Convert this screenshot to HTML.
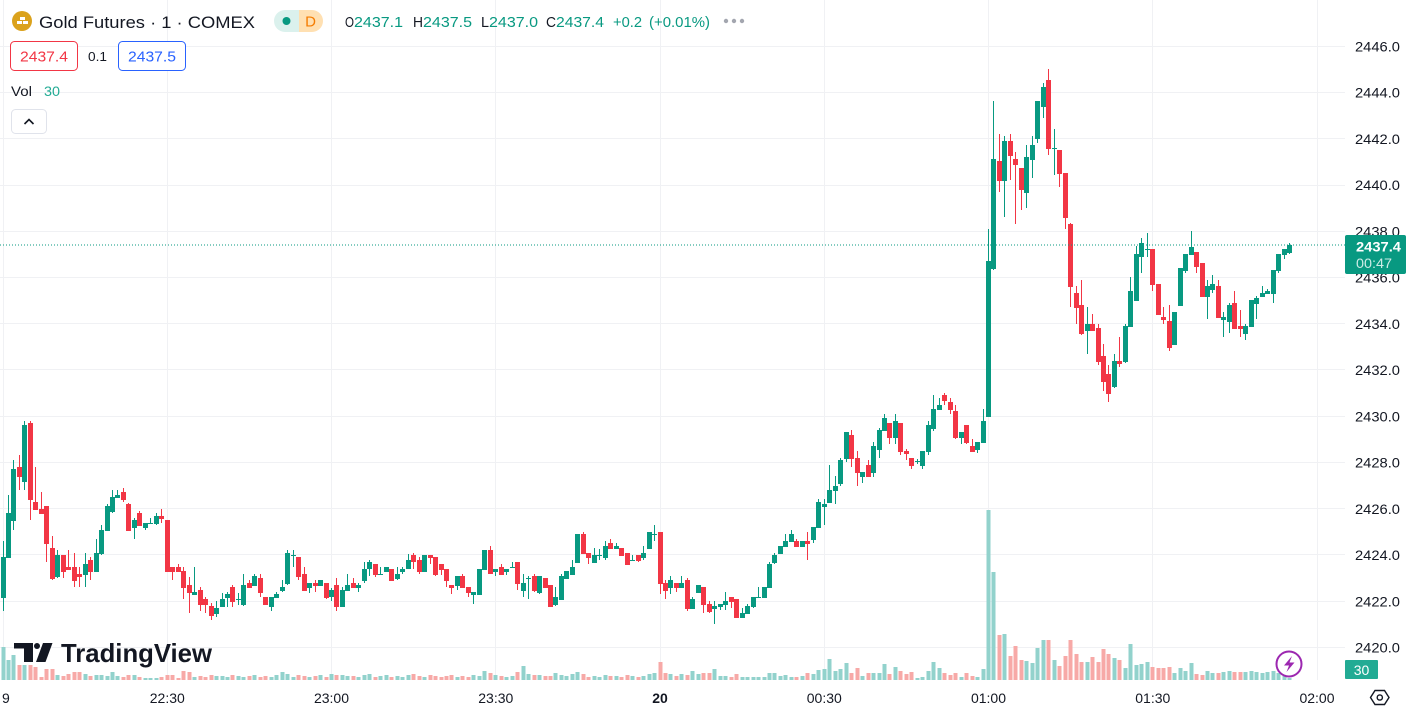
<!DOCTYPE html>
<html><head><meta charset="utf-8">
<style>
html,body{margin:0;padding:0;background:#fff;overflow:hidden;width:1410px;height:714px}
svg{display:block;font-family:"Liberation Sans",sans-serif}
</style></head>
<body>
<svg id="s" width="1410" height="714" viewBox="0 0 1410 714" xmlns="http://www.w3.org/2000/svg">
<rect x="0" y="0" width="1410" height="714" fill="#fff"/>
<defs><clipPath id="cp"><rect x="0" y="0" width="1345" height="680"/></clipPath></defs>
<g id="grid"></g>
<g clip-path="url(#cp)"><g id="vol"></g><g id="cdl"></g>
<line x1="0" y1="245" x2="1345" y2="245" stroke="#089981" stroke-width="1" stroke-dasharray="1 2"/>
</g>
<g id="axis" font-size="14" fill="#131722"></g>

<!-- current price label -->
<rect x="1345" y="235" width="61" height="39" rx="2" fill="#089981"/>
<text x="1356" y="251.5" font-size="14" font-weight="bold" fill="#fff" textLength="45" lengthAdjust="spacingAndGlyphs">2437.4</text>
<text x="1356" y="268" font-size="14" fill="#fff" fill-opacity="0.8" textLength="36" lengthAdjust="spacingAndGlyphs">00:47</text>
<!-- volume label -->
<rect x="1345" y="660" width="33" height="19" rx="1" fill="#22ab94"/>
<text x="1361.5" y="675" font-size="14" fill="#fff" text-anchor="middle">30</text>

<!-- settings hex -->
<polygon points="1370.5,697.5 1375,690.5 1384.5,690.5 1389,697.5 1384.5,704.5 1375,704.5" fill="none" stroke="#131722" stroke-width="1.4"/>
<circle cx="1379.8" cy="697.5" r="2.6" fill="none" stroke="#131722" stroke-width="1.4"/>

<!-- lightning icon -->
<circle cx="1289" cy="664" r="12.5" fill="#fff" stroke="#9c27b0" stroke-width="2"/>
<polygon points="1292,656 1284,665.5 1289,665.5 1286.5,672 1294.5,662.5 1289.5,662.5" fill="#9c27b0"/>

<!-- TradingView logo -->
<path d="M14 643 H33 V662 H24 V648.5 H14 Z" fill="#131722"/>
<circle cx="37" cy="646" r="3" fill="#131722"/>
<polygon points="43,643 52.5,643 45.5,662 36,662" fill="#131722"/>
<text x="61" y="662" font-size="26" font-weight="bold" fill="#131722" textLength="151" lengthAdjust="spacingAndGlyphs">TradingView</text>

<!-- legend -->
<circle cx="22" cy="21" r="10" fill="#dba21c"/>
<rect x="17" y="21" width="5" height="3" fill="#fff"/>
<rect x="23" y="21" width="5" height="3" fill="#fff"/>
<rect x="20" y="17" width="5" height="3" fill="#fff"/>
<text x="39" y="28" font-size="17" fill="#131722" textLength="216" lengthAdjust="spacingAndGlyphs">Gold Futures · 1 · COMEX</text>
<path d="M285 10 H299 V32 H285 A11 11 0 0 1 285 10 Z" fill="#dbf1ed"/>
<path d="M299 10 H312 A11 11 0 0 1 312 32 H299 Z" fill="#ffe0b2"/>
<circle cx="286.5" cy="21" r="4" fill="#089981"/>
<text x="310.5" y="26.5" font-size="15" fill="#f57c00" text-anchor="middle">D</text>
<g font-size="14.5">
<text x="345" y="27" fill="#131722" textLength="9" lengthAdjust="spacingAndGlyphs">O</text>
<text x="354" y="27" fill="#089981" textLength="49" lengthAdjust="spacingAndGlyphs">2437.1</text>
<text x="413" y="27" fill="#131722" textLength="10" lengthAdjust="spacingAndGlyphs">H</text>
<text x="423" y="27" fill="#089981" textLength="49" lengthAdjust="spacingAndGlyphs">2437.5</text>
<text x="481" y="27" fill="#131722" textLength="8" lengthAdjust="spacingAndGlyphs">L</text>
<text x="489" y="27" fill="#089981" textLength="49" lengthAdjust="spacingAndGlyphs">2437.0</text>
<text x="546" y="27" fill="#131722" textLength="10" lengthAdjust="spacingAndGlyphs">C</text>
<text x="556" y="27" fill="#089981" textLength="48" lengthAdjust="spacingAndGlyphs">2437.4</text>
<text x="613" y="27" fill="#089981" textLength="29" lengthAdjust="spacingAndGlyphs">+0.2</text>
<text x="649" y="27" fill="#089981" textLength="61" lengthAdjust="spacingAndGlyphs">(+0.01%)</text>
</g>
<circle cx="726" cy="21" r="2.2" fill="#a3a6af"/>
<circle cx="734" cy="21" r="2.2" fill="#a3a6af"/>
<circle cx="742" cy="21" r="2.2" fill="#a3a6af"/>

<rect x="10.5" y="41.5" width="67" height="29" rx="4" fill="#fff" stroke="#f23645"/>
<text x="44" y="61.5" font-size="15" fill="#f23645" text-anchor="middle" textLength="48" lengthAdjust="spacingAndGlyphs">2437.4</text>
<text x="88" y="61" font-size="13" fill="#131722" textLength="19" lengthAdjust="spacingAndGlyphs">0.1</text>
<rect x="118.5" y="41.5" width="67" height="29" rx="4" fill="#fff" stroke="#2962ff"/>
<text x="152" y="61.5" font-size="15" fill="#2962ff" text-anchor="middle" textLength="48" lengthAdjust="spacingAndGlyphs">2437.5</text>

<text x="11" y="96" font-size="14" fill="#131722" textLength="21" lengthAdjust="spacingAndGlyphs">Vol</text>
<text x="44" y="96" font-size="14" fill="#22ab94" textLength="16" lengthAdjust="spacingAndGlyphs">30</text>

<rect x="11.5" y="109.5" width="35" height="24" rx="4" fill="#fff" stroke="#e0e3eb"/>
<polyline points="24.5,124 29,119.5 33.5,124" fill="none" stroke="#131722" stroke-width="1.6"/>
</svg>
<script>
(function(){
var NS="http://www.w3.org/2000/svg";
var D=[
[410,"440 563 393 602 g|309 443 255 443 g|177 332 150 360 g|171 200 135 240 r|45 215 33 240 g|39 270 33 330 r|276 299 171 299 r|297 311 246 311 r|288 402 288 456 r|414 506 378 510 r|435 500 420 503 g|435 486 435 503 r|470 480 420 480 r|470 512 430 530 r|491 500 470 530 r|462 494 430 530 g|450 485 440 510 r|429 486 387 486 g|360 432 345 435 g|288 362 282 362 g|261 305 240 308 g|255 263 240 263 g|246 270 234 275 r|282 362 279 362 r|330 353 324 386 g|309 347 303 347 r|339 353 339 360 g|339 342 324 342 g|318 341 309 345 g|318 326 297 338 r|330 485 330 485 r|470 485 470 510 r|470 485 462 485 r|483 533 470 566 r|524 548 500 608 r|545 554 470 554 g|540 584 530 602 r|566 584 560 608 r|588 617 580 629 r|594 611 572 620 g|567 590 550 590 g|551 563 545 590 g|530 575 525 590 r|567 569 550 585 g|524 584 492 587 g|518 533 510 533 r|497 527 491 527 g|503 548 491 560 r|560 584 560 584 r|561 590 561 602 g|551 563 545 563 g|530 542 510 545 g|429 521 420 524 g|435 437 420 470 g|440 500 440 510 r|491 542 470 542 r|518 533 518 550 g|518 527 510 545 r|509 527 509 527 g|518 563 518 566 r"],
[510,"240 262 235 272 g|225 290 205 302 r|240 290 232 290 g|225 242 192 242 g|219 234 205 234 r|225 234 218 245 g|177 212 156 218 g|156 178 150 198 g|162 195 162 200 r|192 194 171 195 g|171 186 171 186 g|177 212 177 212 r|192 207 171 210 g|177 186 171 192 g|150 178 132 178 g|135 157 129 177 r|150 186 141 192 r|135 186 135 186 g|135 143 135 162 r|141 195 141 198 r|162 180 162 195 r|177 212 177 230 r|225 234 225 251 r|198 228 198 240 g|198 233 192 233 r|231 248 231 262 r|246 254 246 281 g|177 254 177 254 g|120 180 120 180 g|120 192 108 192 r|177 186 177 198 g|171 195 162 195 r|177 186 177 195 g|171 173 156 174 g|156 222 156 240 r|219 242 192 260 g|204 206 198 266 g|198 242 192 245 r|198 248 198 251 g|204 233 204 233 r|225 290 225 290 r|260 284 231 287 g|198 269 192 269 g|183 206 183 206 g|171 194 150 194 g|72 158 72 158 g|72 131 66 131 r|129 143 129 162 r|135 158 114 158 g|135 137 117 150 g|108 143 93 150 g|99 116 87 116 r|108 116 99 116 g|114 137 114 137 r|129 165 129 165 r|150 152 135 153 g|135 153 135 156 r|129 143 108 150 g|66 116 66 116 g|72 74 45 93 g"],
[380,"456 611 456 641 r|609 632 600 656 r|600 623 588 641 g|609 623 609 635 r|609 623 588 623 g|600 686 594 692 r|657 686 651 686 g|615 638 615 638 g|621 674 621 698 r|672 695 662 698 r|678 686 662 731 g|672 680 672 690 g|662 674 636 690 g|651 665 651 683 r|657 713 657 713 r|699 713 684 713 g|678 701 672 701 g|651 681 651 683 g|651 653 621 653 g|621 654 621 654 g|551 623 546 623 g|524 548 518 551 g|497 521 497 521 g|483 500 462 500 g|462 486 450 486 g|483 500 477 500 r|483 500 483 500 g|483 491 456 540 r|441 480 441 489 g|365 443 357 443 g|372 380 357 435 g|330 368 255 368 g|318 332 288 372 g|240 311 234 318 g|156 236 156 246 g|165 236 150 260 r|234 278 213 318 r|276 290 276 308 g|255 290 240 290 r|198 278 186 290 g|150 210 144 234 g|114 153 102 153 g|129 173 129 192 r|123 173 102 192 g|129 215 129 225 r|213 222 207 240 r|234 257 234 266 r|243 245 237 252 g|213 257 213 266 g|135 215 123 225 g|87 147 45 153 g|75 89 54 89 g|45 62 39 75 r|66 89 54 101 r|93 174 75 177 r|156 173 156 192 g|135 189 135 192 r|198 215 177 215 r|186 210 186 219 g|123 188 87 188 g"],
[60,"603 1070 507 1070 g|297 627 123 630 g|303 362 222 395 r|243 362 228 470 g|243 288 222 360 r|297 314 276 491 r|324 389 324 449 r|291 398 255 443 g|255 299 228 353 g|123 236 123 248 g|81 140 69 173 g|60 266 27 284 r|264 266 207 344 g|270 341 270 380 r|339 473 339 506 r|491 680 488 740 r|699 743 678 791 r|735 821 660 825 r|792 812 740 881 g|792 812 762 812 r|803 905 792 914 r|887 965 852 992 r|941 1001 914 1025 r|903 980 881 983 g|903 911 830 920 r|797 905 792 908 g|692 800 651 800 g|582 722 557 722 g|548 590 533 638 g|567 569 518 590 g|567 674 567 692 r|671 764 671 764 r|770 779 740 791 r|782 863 735 872 r|755 854 755 854 g|624 737 624 737 g|582 632 582 638 g|561 585 513 585 g|576 620 576 638 r|609 710 609 710 r|678 710 660 776 g|672 689 645 698 g|678 773 660 773 r|770 779 755 830 g|735 785 728 818 g|728 806 692 806 r|797 806 749 830 r|797 821 791 839 g|719 800 719 800 g|713 731 708 776 g|698 710 678 710 g|692 701 686 701 g|630 701 630 728 g|582 632 582 638 g|567 584 567 597 g|555 578 548 581 g"]
];
var bars=[];
D.forEach(function(r){var off=r[0];r[1].split('|').forEach(function(t){var a=t.trim().split(/\s+/);bars.push({bt:off+a[0]/3,bb:off+a[1]/3,wt:off+a[2]/3,wb:off+a[3]/3,c:a[4]});});});

// volumes
var V=[];
var head=[33,20,25,15,15,15,13,3,11,11,5,4,6,8,8,6,4,5,5,4,8,4,3,5,5,3,2,2,2,3,5,5,2,9,8];
var pat=[4,3,5,4,4,3,5,4,3,4,5,3];
for(var i=0;i<121;i++){V[i]=i<head.length?head[i]:pat[i%pat.length];}
var ov={51:8,52:6,60:6,61:5,66:5,67:6,74:5,75:6,88:9,89:7,94:8,95:14,96:6,97:5,101:7,104:6,105:8,106:6,118:6,119:7,120:18};
for(var k in ov)V[+k]=ov[k];
var mid=[7,6,4,6,5,9,6,7,7,11,4,4,3,6,3,3,3,3,3,7,7,4,5,3,3,4,7,6,10,11,21,9,11,17,7,12,4,7,7,7,16,6,13,9,6,8,2,3,9,18,12,7,5,7,3,7,4,3,11];
for(i=0;i<mid.length;i++)V[121+i]=mid[i];
var tail=[170,108,45,46,24,34,20,19,17,32,40,40,20,14,24,40,26,18,18,23,18,31,26,22,20,12,36,15,16,18,13,12,12,13,7,12,9,17,6,5,9,7,7,8,9,8,8,8,9,8,7,8,9,7,4,2];
for(i=0;i<tail.length;i++)V[180+i]=tail[i];

function el(tag,attrs,parent){var e=document.createElementNS(NS,tag);for(var a in attrs)e.setAttribute(a,attrs[a]);parent.appendChild(e);return e;}
var grid=document.getElementById('grid'),vol=document.getElementById('vol'),cdl=document.getElementById('cdl'),axis=document.getElementById('axis');
var GC="#f0f1f4";
// horizontal grid + price labels
for(var k2=0;k2<14;k2++){
  var y=46.3+k2*46.24;var yy=Math.floor(y)+0.5;
  el('line',{x1:0,y1:yy,x2:1345,y2:yy,stroke:GC,'stroke-width':1},grid);
  var p=(2446-2*k2).toFixed(1);
  var t=el('text',{x:1355,y:(y+5.2).toFixed(1),textLength:45,lengthAdjust:'spacingAndGlyphs'},axis);t.textContent=p;
}
// vertical grid + time labels
var labels=["9","22:30","23:00","23:30","20","00:30","01:00","01:30","02:00"];
for(var j=0;j<9;j++){
  var x=3+j*164.25;var xx=Math.floor(x)+0.5;
  el('line',{x1:xx,y1:0,x2:xx,y2:680,stroke:GC,'stroke-width':1},grid);
  var at={x:x.toFixed(1),y:703,'text-anchor':'middle'};
  if(j==0){at.x=2;at['text-anchor']='start';}
  if(j==4){at['font-weight']='bold';}
  var tt=el('text',at,axis);tt.textContent=labels[j];
}
// candles & volume
var G="#089981",Rc="#f23645",VG="#92d2cc",VR="#f7a9a7";
bars.forEach(function(b,i){
  var cx=3+i*5.475;var left=Math.round(cx-2.5);
  var col=b.c=='g'?G:Rc;
  var h=V[i]||3;
  el('rect',{x:left+0.5,y:(680-h).toFixed(1),width:4,height:h,fill:b.c=='g'?VG:VR},vol);
  var wt=Math.round(b.wt),wb=Math.round(b.wb);
  el('rect',{x:left+2,y:wt,width:1,height:Math.max(1,wb-wt),fill:col},cdl);
  var bt=Math.round(b.bt),bb=Math.round(b.bb);
  el('rect',{x:left,y:bt,width:5,height:Math.max(1,bb-bt),fill:col},cdl);
});
})();
</script>
</body></html>
